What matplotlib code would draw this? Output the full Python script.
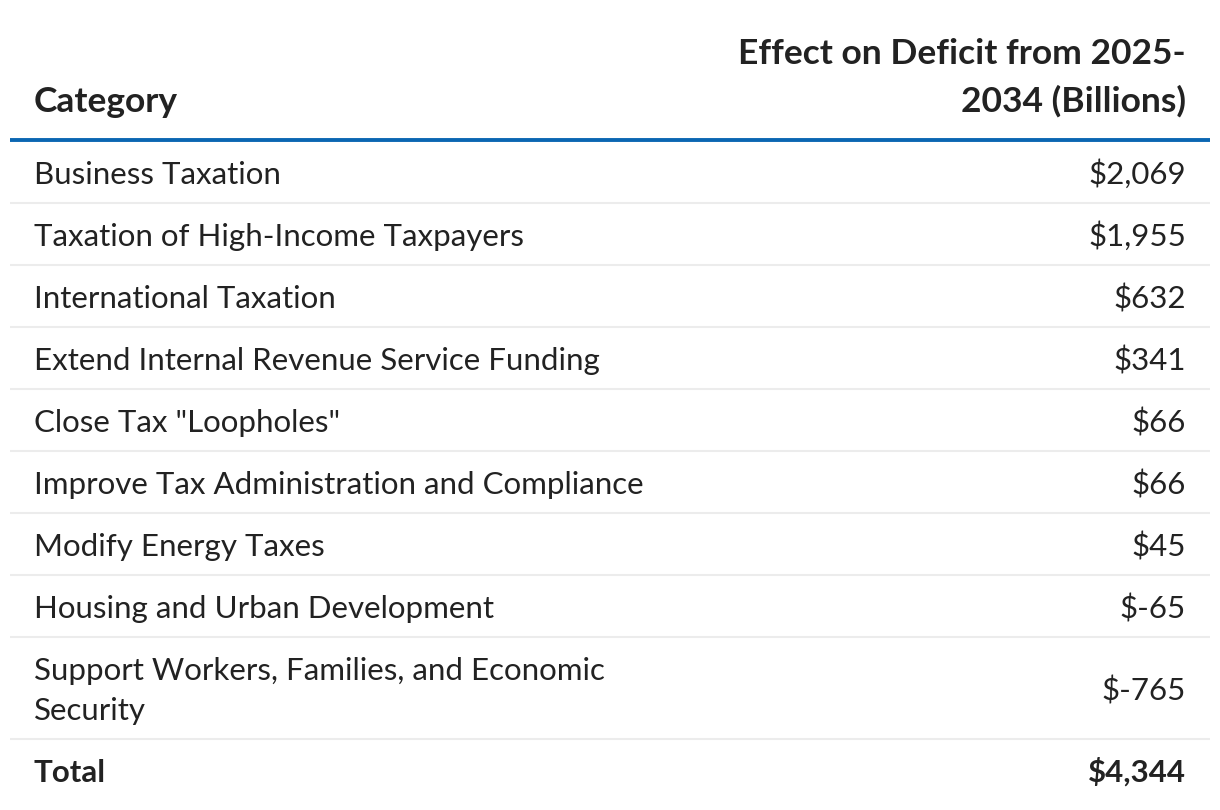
import matplotlib.pyplot as plt

plt.rcParams['font.family'] = ['Lato', 'DejaVu Sans']

header_left = "Category"
header_right = ["Effect on Deficit from 2025-", "2034 (Billions)"]

categories = [
    "Business Taxation",
    "Taxation of High-Income Taxpayers",
    "International Taxation",
    "Extend Internal Revenue Service Funding",
    'Close Tax "Loopholes"',
    "Improve Tax Administration and Compliance",
    "Modify Energy Taxes",
    "Housing and Urban Development",
    "Support Workers, Families, and Economic\nSecurity",
]
values = [2069, 1955, 632, 341, 66, 66, 45, -65, -765]
total_label = "Total"
total_value = 4344

TEXT = "#222222"
BLUE = "#0a66b2"
GREY = "#ececec"
FS = 22.5
HFS = 25.5

fig = plt.figure(figsize=(12.2, 8.1), dpi=100)
ax = fig.add_axes([0, 0, 1, 1])
ax.set_xlim(0, 1220)
ax.set_ylim(810, 0)
ax.axis('off')

x_left, x_right = 34, 1186
line_x0, line_x1 = 10, 1210

# header
ax.text(x_left, 112, header_left, fontsize=HFS, fontweight='bold',
        color=TEXT, ha='left', va='baseline')
for i, line in enumerate(header_right):
    ax.text(x_right, 64 + 48 * i, line, fontsize=HFS, fontweight='bold',
            color=TEXT, ha='right', va='baseline')
ax.plot([line_x0, line_x1], [140, 140], color=BLUE, lw=2.8,
        solid_capstyle='butt')


def fmt(v):
    return f"${v:,}"


row_h = 62
line_gap = 40
y = 141
for cat, val in zip(categories, values):
    n = cat.count("\n") + 1
    h = row_h + line_gap * (n - 1)
    mid = y + h / 2
    for j, part in enumerate(cat.split("\n")):
        ax.text(x_left, mid + 12 - line_gap * (n - 1) / 2 + line_gap * j, part,
                fontsize=FS, color=TEXT, ha='left', va='baseline')
    ax.text(x_right, mid + 12, fmt(val), fontsize=FS, color=TEXT,
            ha='right', va='baseline')
    y += h
    ax.plot([line_x0, line_x1], [y, y], color=GREY, lw=1.5,
            solid_capstyle='butt')

mid = y + row_h / 2
ax.text(x_left, mid + 12, total_label, fontsize=FS, fontweight='bold',
        color=TEXT, ha='left', va='baseline')
ax.text(x_right, mid + 12, fmt(total_value), fontsize=FS, fontweight='bold',
        color=TEXT, ha='right', va='baseline')

fig.savefig("out.png", dpi=100, facecolor='white')
